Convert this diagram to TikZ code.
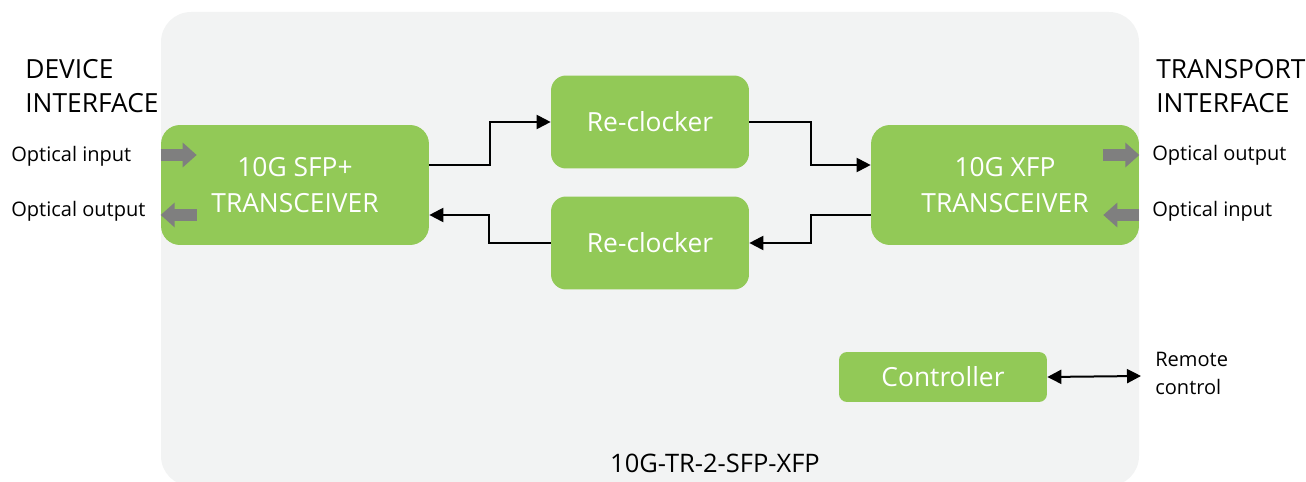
\documentclass[tikz,border=0pt]{standalone}
\usepackage{fontspec}
\setmainfont{Open Sans}
\usetikzlibrary{arrows.meta}
\definecolor{boxgreen}{RGB}{146,201,87}
\definecolor{panelgray}{RGB}{242,243,243}
\definecolor{portgray}{RGB}{127,127,127}

\begin{document}
\begin{tikzpicture}[x=0.02cm, y=-0.02cm]
    % Define styles
    \tikzset{
        panel/.style={fill=panelgray, rounded corners=0.6cm},
        block/.style={fill=boxgreen, text=white, align=center, inner sep=0pt,
            font=\fontsize{15}{20.5}\selectfont},
        bigblock/.style={block, rounded corners=0.38cm, minimum width=5.36cm, minimum height=2.4cm},
        clockblock/.style={block, rounded corners=0.3cm, minimum width=3.96cm, minimum height=1.86cm},
        ctrlblock/.style={block, rounded corners=0.16cm, minimum width=4.16cm, minimum height=1cm},
        sidetitle/.style={anchor=base west, align=left, inner sep=0pt,
            font=\fontsize{15}{19.4}\selectfont},
        portlabel/.style={anchor=base west, inner sep=0pt, font=\fontsize{11.4}{14}\selectfont},
        link/.style={line width=0.04cm, -{Triangle[length=0.28cm, width=0.28cm]}},
        port/.style={portgray, line width=0.24cm, -{Triangle[length=0.28cm, width=0.48cm]}}
    }

    \useasboundingbox (0,0) rectangle (1306,482);

    % Draw panel
    \path[panel] (161,12) rectangle (1139,486);
    \node[font=\fontsize{14.5}{16}\selectfont, anchor=base] (model) at (715,473) {10G-TR-2-SFP-XFP};

    % Draw blocks
    \node[bigblock] (sfp) at (295,185) {10G SFP+\\TRANSCEIVER};
    \node[bigblock] (xfp) at (1005,185) {10G XFP\\TRANSCEIVER};
    \node[clockblock] (rctop) at (650,122) {Re-clocker};
    \node[clockblock] (rcbot) at (650,243) {Re-clocker};
    \node[ctrlblock] (ctrl) at (943,377) {Controller};

    % Data paths
    \draw[link] ([yshift=0.4cm]sfp.east) -- ++(61,0) |- (rctop.west);
    \draw[link] (rctop.east) -- ++(62,0) |- ([yshift=0.4cm]xfp.west);
    \draw[link] ([yshift=-0.6cm]xfp.west) -- ++(-60,0) |- (rcbot.east);
    \draw[link] (rcbot.west) -- ++(-62,0) |- ([yshift=-0.6cm]sfp.east);

    % Optical ports
    \draw[port] ([yshift=0.6cm]sfp.west) -- ++(36,0);
    \draw[port] ([yshift=-0.6cm,xshift=0.72cm]sfp.west) -- ++(-36,0);
    \draw[port] ([yshift=0.6cm,xshift=-0.72cm]xfp.east) -- ++(36,0);
    \draw[port] ([yshift=-0.6cm]xfp.east) -- ++(-36,0);

    % Remote control
    \coordinate (remote) at (1141,376);
    \draw[link, {Triangle[length=0.28cm, width=0.28cm]}-{Triangle[length=0.28cm, width=0.28cm]}] (ctrl.east) -- (remote);

    % Add labels
    \node[sidetitle] (devif) at (25,113) {DEVICE\\INTERFACE};
    \node[sidetitle] (trif) at (1156,113) {TRANSPORT\\INTERFACE};
    \node[portlabel] (sfpin) at (11,162) {Optical input};
    \node[portlabel] (sfpout) at (11,217) {Optical output};
    \node[portlabel] (xfpout) at (1152,161) {Optical output};
    \node[portlabel] (xfpin) at (1152,217) {Optical input};
    \node[anchor=base west, align=left, inner sep=0pt,
        font=\fontsize{11.4}{16}\selectfont] (remtext) at (1155,395) {Remote\\control};

\end{tikzpicture}
\end{document}
